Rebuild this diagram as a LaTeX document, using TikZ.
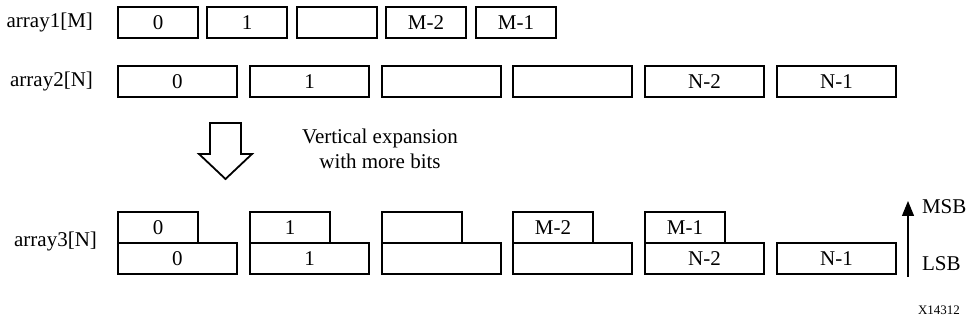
\documentclass[tikz,border=0pt]{standalone}
\usepackage{fontspec}
\setmainfont{Liberation Serif}
\usetikzlibrary{arrows.meta}
\definecolor{cellLine}{RGB}{0, 0, 0}

\begin{document}
\begin{tikzpicture}[x=0.5pt, y=-0.5pt,
    every node/.style={font=\fontsize{10.5}{12.5}\selectfont},
    cell/.style={draw=cellLine, line width=1.1pt, inner sep=0pt, minimum height=15.5pt},
    narrow/.style={cell, minimum width=40pt},
    wide/.style={cell, minimum width=59.5pt}]
    \useasboundingbox (0,0) rectangle (966,326);

    % array1
    \node[anchor=east] (lblA) at (100,22.5) {array1[M]};
    \node[narrow] (a0) at (158,22.5) {0};
    \node[narrow] (a1) at (247,22.5) {1};
    \node[narrow] (a2) at (337,22.5) {};
    \node[narrow] (a3) at (426,22.5) {M-2};
    \node[narrow] (a4) at (516,22.5) {M-1};

    % array2
    \node[anchor=east] (lblB) at (100,81.5) {array2[N]};
    \node[wide] (b0) at (177.5,81.5) {0};
    \node[wide] (b1) at (309.5,81.5) {1};
    \node[wide] (b2) at (441.5,81.5) {};
    \node[wide] (b3) at (572.5,81.5) {};
    \node[wide] (b4) at (704.5,81.5) {N-2};
    \node[wide] (b5) at (836.5,81.5) {N-1};

    % hollow arrow and note
    \draw[line width=0.9pt, line join=miter] (210,123) -- (241,123) -- (241,154) -- (252,154)
        -- (225.5,179) -- (199,154) -- (210,154) -- cycle;
    \node[align=center] (note) at (380,149) {Vertical expansion\\with more bits};

    % array3
    \node[anchor=east] (lblC) at (104,241) {array3[N]};
    \node[narrow] (h0) at (158,227.5) {0};
    \node[narrow] (h1) at (290,227.5) {1};
    \node[narrow] (h2) at (422,227.5) {};
    \node[narrow] (h3) at (553,227.5) {M-2};
    \node[narrow] (h4) at (685,227.5) {M-1};
    \node[wide] (l0) at (177.5,258.5) {0};
    \node[wide] (l1) at (309.5,258.5) {1};
    \node[wide] (l2) at (441.5,258.5) {};
    \node[wide] (l3) at (572.5,258.5) {};
    \node[wide] (l4) at (704.5,258.5) {N-2};
    \node[wide] (l5) at (836.5,258.5) {N-1};

    % bit order
    \coordinate (lsbFoot) at (908,277);
    \coordinate (msbTip) at (908,201);
    \draw[line width=0.6pt, -{Triangle[length=7.5pt, width=6pt]}] (lsbFoot) -- (msbTip);
    \node[anchor=west] (msb) at (915,207) {MSB};
    \node[anchor=west] (lsb) at (915,264) {LSB};

    \node[anchor=east, font=\fontsize{6.5}{8}\selectfont] (fig) at (967,310) {X14312};
\end{tikzpicture}
\end{document}
